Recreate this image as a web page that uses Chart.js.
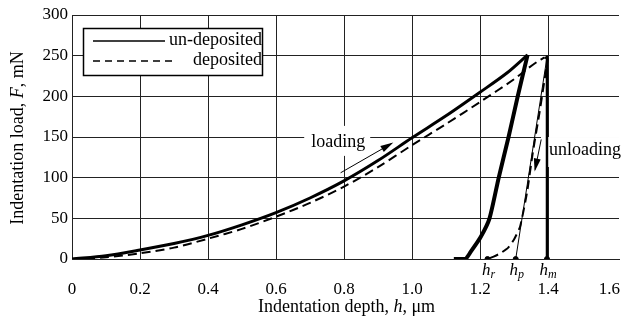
<!DOCTYPE html>
<html>
<head>
<meta charset="utf-8">
<script src="https://cdn.jsdelivr.net/npm/chart.js@4.4.0/dist/chart.umd.min.js"></script>
<style>
  html, body { margin: 0; padding: 0; background: #fff; }
  #wrap { width: 624px; height: 320px; }
</style>
</head>
<body>
<div id="wrap"><canvas id="chart" width="624" height="320"></canvas></div>
<script>
// data (depth in um, load in mN)
const undepLoadX = [0, 0.1, 0.2, 0.3, 0.4, 0.5, 0.6, 0.7, 0.8, 0.9, 1.0, 1.1, 1.2, 1.28, 1.34];
const undepLoadY = [0, 4, 11, 19, 29, 42, 57, 75, 96, 121, 149, 176, 205, 229, 251];
const undepUnloadX = [1.34, 1.311, 1.284, 1.255, 1.228, 1.202, 1.173, 1.157, 1.123];
const undepUnloadY = [251, 200, 150, 100, 50, 27, 9, 0, 0];

const depLoadX = [0, 0.1, 0.2, 0.3, 0.4, 0.5, 0.6, 0.7, 0.8, 0.9, 1.0, 1.1, 1.2, 1.3, 1.34, 1.37, 1.39];
const depLoadY = [0, 2, 7, 14, 25, 37, 52, 69, 89, 113, 140, 166, 193, 221, 234, 243, 248];
const depUnloadX = [1.39, 1.399, 1.397, 1.375, 1.355, 1.338, 1.318, 1.30, 1.283, 1.26, 1.24, 1.222];
const depUnloadY = [248, 246, 240, 180, 130, 81, 40, 24, 14, 7, 3, 0];

const hmX = [1.397, 1.397];
const hmY = [0, 250];
const tangentX = [1.397, 1.305];
const tangentY = [248, 0];

const loadArrowX = [0.79, 0.94];
const loadArrowY = [106, 142];
const unloadArrowX = [1.38, 1.362];
const unloadArrowY = [147, 110];

const markDepths = [1.222, 1.305, 1.397];
const markNames = ['r', 'p', 'm'];

const xTickValues = [0, 0.2, 0.4, 0.6, 0.8, 1.0, 1.2, 1.4, 1.6];
const yTickValues = [0, 50, 100, 150, 200, 250, 300];

function pts(xs, ys) {
    return xs.map((x, i) => ({ x: x, y: ys[i] }));
}

const serif = "'Liberation Serif', 'DejaVu Serif', serif";

// write a line made of [text, italic] runs, centred on 0
function drawRuns(ctx, runs, size) {
    let total = 0;
    runs.forEach(r => {
        ctx.font = (r[1] ? 'italic ' : '') + size + 'px ' + serif;
        total += ctx.measureText(r[0]).width;
    });
    let x = -total / 2;
    runs.forEach(r => {
        ctx.font = (r[1] ? 'italic ' : '') + size + 'px ' + serif;
        ctx.fillText(r[0], x, 0);
        x += ctx.measureText(r[0]).width;
    });
}

const notesPlugin = {
    id: 'notes',
    beforeDatasetsDraw(chart) {
        // labels with white boxes, drawn under the curves
        const ctx = chart.ctx;
        const xs = chart.scales.x, ys = chart.scales.y;
        ctx.save();
        ctx.font = '18px ' + serif;
        ctx.textBaseline = 'middle';
        let px = xs.getPixelForValue(0.78), py = ys.getPixelForValue(144);
        ctx.fillStyle = '#fff';
        ctx.fillRect(px - 33, py - 16, 66, 30);
        ctx.fillStyle = '#000';
        ctx.textAlign = 'center';
        ctx.fillText('loading', px + 1, py);
        px = xs.getPixelForValue(1.397); py = ys.getPixelForValue(134);
        ctx.fillStyle = '#fff';
        ctx.fillRect(px - 6, py - 13, 90, 30);
        ctx.fillStyle = '#000';
        ctx.textAlign = 'left';
        ctx.fillText('unloading', px + 2, py);
        ctx.restore();
    },
    afterDatasetsDraw(chart) {
        const ctx = chart.ctx;
        // arrow heads
        chart.data.datasets.forEach((ds, i) => {
            if (!ds.arrow) return;
            const p = chart.getDatasetMeta(i).data;
            const a = p[p.length - 2], b = p[p.length - 1];
            const ang = Math.atan2(b.y - a.y, b.x - a.x);
            ctx.save();
            ctx.translate(b.x, b.y);
            ctx.rotate(ang);
            ctx.fillStyle = '#000';
            ctx.beginPath();
            ctx.moveTo(2, 0);
            ctx.lineTo(-11, -3.5);
            ctx.lineTo(-11, 3.5);
            ctx.closePath();
            ctx.fill();
            ctx.restore();
        });
        // h_r, h_p, h_m
        const xs = chart.scales.x, ys = chart.scales.y;
        const y0 = ys.getPixelForValue(0);
        ctx.save();
        ctx.fillStyle = '#000';
        ctx.textBaseline = 'alphabetic';
        markDepths.forEach((d, i) => {
            const px = xs.getPixelForValue(d);
            ctx.font = 'italic 17px ' + serif;
            const w1 = ctx.measureText('h').width;
            ctx.font = 'italic 12px ' + serif;
            const w2 = ctx.measureText(markNames[i]).width;
            const left = px - (w1 + w2) / 2 + 1;
            ctx.font = 'italic 17px ' + serif;
            ctx.fillText('h', left, y0 + 16);
            ctx.font = 'italic 12px ' + serif;
            ctx.fillText(markNames[i], left + w1, y0 + 19);
        });
        ctx.restore();
    },
    afterDraw(chart) {
        const ctx = chart.ctx;
        const area = chart.chartArea;
        ctx.save();
        // last x tick label, pulled inside the canvas
        ctx.fillStyle = '#000';
        ctx.font = '17px ' + serif;
        ctx.textAlign = 'right';
        ctx.textBaseline = 'middle';
        ctx.fillText('1.6', 620, 290);
        // axis titles
        ctx.textAlign = 'left';
        ctx.translate((area.left + area.right) / 2 + 1, 307);
        drawRuns(ctx, [['Indentation depth, ', false], ['h', true], [', μm', false]], 18);
        ctx.restore();
        ctx.save();
        ctx.fillStyle = '#000';
        ctx.textBaseline = 'middle';
        ctx.translate(18, (area.top + area.bottom) / 2 + 1);
        ctx.rotate(-Math.PI / 2);
        drawRuns(ctx, [['Indentation load, ', false], ['F', true], [', mN', false]], 18);
        ctx.restore();

        // legend box
        ctx.save();
        ctx.fillStyle = '#fff';
        ctx.fillRect(83, 28, 180, 48);
        ctx.strokeStyle = '#000';
        ctx.lineWidth = 1.5;
        ctx.strokeRect(83.5, 28.5, 179, 47);
        ctx.lineWidth = 1.6;
        ctx.beginPath();
        ctx.moveTo(93, 41);
        ctx.lineTo(165, 41);
        ctx.stroke();
        ctx.setLineDash([7, 5]);
        ctx.beginPath();
        ctx.moveTo(93, 61);
        ctx.lineTo(176, 61);
        ctx.stroke();
        ctx.setLineDash([]);
        ctx.fillStyle = '#000';
        ctx.font = '18px ' + serif;
        ctx.textAlign = 'right';
        ctx.textBaseline = 'middle';
        ctx.fillText('un-deposited', 262, 40);
        ctx.fillText('deposited', 262, 60);
        ctx.restore();
    }
};

const base = { showLine: true, pointRadius: 0, borderColor: '#000', backgroundColor: '#000', fill: false };

new Chart(document.getElementById('chart'), {
    type: 'scatter',
    data: {
        datasets: [
            Object.assign({}, base, { label: 'un-deposited', data: pts(undepLoadX, undepLoadY), borderWidth: 3, tension: 0.3 }),
            Object.assign({}, base, { label: 'un-deposited unloading', data: pts(undepUnloadX, undepUnloadY), borderWidth: 4, tension: 0.2 }),
            Object.assign({}, base, { label: 'deposited', data: pts(depLoadX, depLoadY), borderWidth: 2, borderDash: [9, 5], tension: 0.3 }),
            Object.assign({}, base, { label: 'deposited unloading', data: pts(depUnloadX, depUnloadY), borderWidth: 2, borderDash: [9, 5], tension: 0.15 }),
            Object.assign({}, base, { label: 'hm', data: pts(hmX, hmY), borderWidth: 2.5 }),
            Object.assign({}, base, { label: 'tangent', data: pts(tangentX, tangentY), borderWidth: 1 }),
            Object.assign({}, base, { label: 'loading arrow', data: pts(loadArrowX, loadArrowY), borderWidth: 1, arrow: true }),
            Object.assign({}, base, { label: 'unloading arrow', data: pts(unloadArrowX, unloadArrowY), borderWidth: 1, arrow: true }),
            Object.assign({}, base, { label: 'marks', showLine: false, data: markDepths.map(d => ({ x: d, y: 0 })), pointRadius: 2.5 })
        ]
    },
    options: {
        animation: false,
        responsive: false,
        layout: { padding: { top: 15, right: 0, left: 0, bottom: 0 } },
        plugins: { legend: { display: false }, tooltip: { enabled: false } },
        scales: {
            x: {
                type: 'linear',
                min: 0,
                max: 1.6088,
                afterFit: s => { s.height = 61; s.paddingLeft = 0; s.paddingRight = 0; },
                afterBuildTicks: s => { s.ticks = xTickValues.map(v => ({ value: v })); },
                grid: { color: ctx => (ctx.tick && ctx.tick.value === 1.6 ? 'rgba(0,0,0,0)' : '#222'), lineWidth: 1, drawTicks: false },
                border: { color: '#222', width: 1 },
                ticks: {
                    padding: 20,
                    color: '#000',
                    font: { family: serif, size: 17 },
                    maxRotation: 0,
                    autoSkip: false,
                    callback: v => (v === 0 ? '0' : v === 1.6 ? '' : v.toFixed(1))
                }
            },
            y: {
                min: 0,
                max: 300,
                afterFit: s => { s.width = 72; s.paddingTop = 0; s.paddingBottom = 0; },
                afterBuildTicks: s => { s.ticks = yTickValues.map(v => ({ value: v })); },
                grid: { color: '#222', lineWidth: 1, drawTicks: false },
                border: { color: '#222', width: 1 },
                ticks: {
                    padding: 4,
                    color: '#000',
                    font: { family: serif, size: 17 },
                    callback: v => String(v)
                }
            }
        }
    },
    plugins: [notesPlugin]
});
</script>
</body>
</html>
